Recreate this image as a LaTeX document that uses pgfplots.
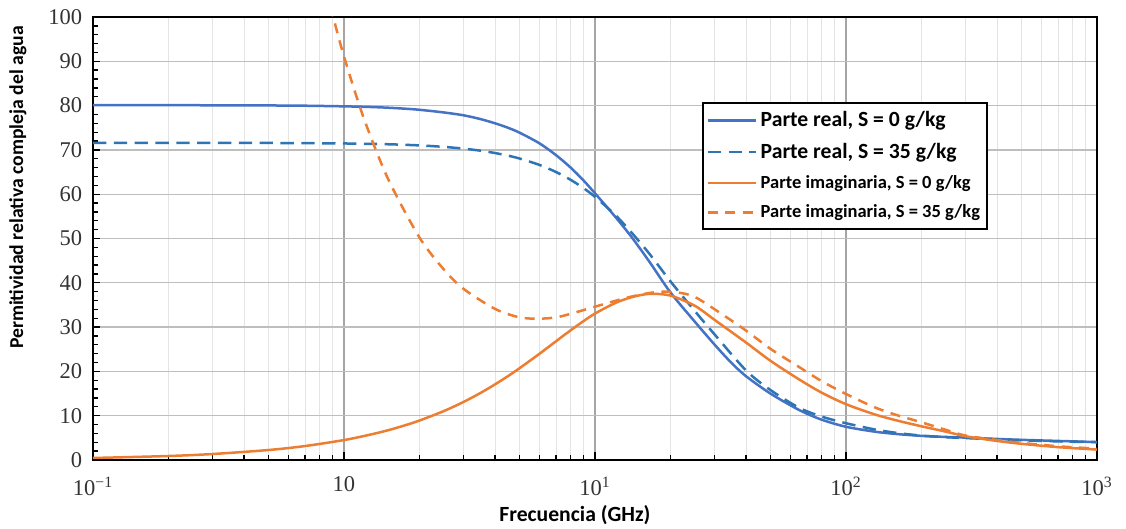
\documentclass[border=0pt]{standalone}
\usepackage{pgfplots}
\pgfplotsset{compat=1.18}
\usepackage{fontspec}
\setmainfont{Liberation Serif}
\newfontfamily\labelfont{Carlito}

\definecolor{realblue}{RGB}{68,114,196}
\definecolor{saltblue}{RGB}{46,117,182}
\definecolor{imagorange}{RGB}{237,125,49}
\definecolor{majorgrid}{RGB}{190,190,190}
\definecolor{minorgrid}{RGB}{228,228,228}
\definecolor{vgrid}{RGB}{165,165,165}

\begin{document}
\begin{tikzpicture}
\begin{axis}[
  scale only axis,
  width=602.4pt, height=265.8pt,
  xmode=log,
  xmin=0.1, xmax=1000,
  ymin=0, ymax=100,
  xtick={0.1,1,10,100,1000},
  xticklabels={10\textsuperscript{−1},10,10\textsuperscript{1},10\textsuperscript{2},10\textsuperscript{3}},
  ytick={0,10,...,100},
  minor y tick num=4,
  tick pos=left,
  tick align=inside,
  major tick length=4.5pt,
  minor tick length=3pt,
  every tick/.style={black, line width=0.8pt},
  /pgf/number format/assume math mode=true,
  ticklabel style={font=\fontsize{13.5}{15}\selectfont, text=black!80},
  yticklabel style={xshift=-3pt},
  xticklabel style={yshift=-6.5pt},
  xmajorgrids=true, xminorgrids=true, ymajorgrids=true,
  major x grid style={vgrid, line width=0.8pt},
  minor x grid style={minorgrid, line width=0.6pt},
  major y grid style={majorgrid, line width=0.8pt},
  axis line style={black, line width=1pt},
  xlabel={Frecuencia (GHz)},
  ylabel={Permitividad relativa compleja del agua},
  xlabel style={at={(axis description cs:0.48,-0.124)}, anchor=center,
    font=\labelfont\bfseries\fontsize{13}{15}\selectfont},
  ylabel style={at={(axis description cs:-0.0747,0.615)}, anchor=center,
    font=\labelfont\bfseries\fontsize{11.8}{14}\selectfont},
  legend style={at={(axis description cs:0.6066,0.808)}, anchor=north west,
    draw=black, line width=1.2pt, fill=white,
    font=\labelfont\bfseries, inner xsep=2pt, inner ysep=3pt,
    row sep=4.5pt},
  legend cell align=left,
  legend image code/.code={\draw[#1, line width=1.6pt] (0pt,0pt) -- (29pt,0pt);},
  every axis plot/.append style={line width=1.5pt, smooth},
]
% Parte real, S = 0 g/kg
\addplot[realblue] coordinates {
 (0.1,80.10) (0.2,80.09) (0.3,80.07) (0.5,80.03) (0.7,79.97) (1,79.83)
 (1.25,79.70) (1.5,79.52) (1.75,79.30) (2,79.05) (2.5,78.45) (3,77.8)
 (3.5,76.95) (4,76.0) (4.5,75.0) (5,73.9) (6,71.5) (7,68.8) (8,66.0)
 (9,63.1) (10,60.2) (12,55.0) (14,50.3) (16.5,44.7) (20,37.8) (25,31.2)
 (30,26.0) (35,21.9) (40,18.9) (50,15.0) (65,11.3) (80,9.1) (100,7.5)
 (130,6.4) (160,5.85) (200,5.45) (250,5.2) (300,5.05) (400,4.75)
 (500,4.55) (700,4.3) (1000,4.05)
};
\addlegendentry{\fontsize{13}{15}\selectfont Parte real, S = 0 g/kg}
% Parte real, S = 35 g/kg
\addplot[saltblue, dash pattern=on 8pt off 4.5pt] coordinates {
 (0.1,71.6) (0.5,71.56) (1,71.45) (1.5,71.27) (2,71.01) (2.5,70.68)
 (3,70.28) (3.5,69.82) (4,69.29) (4.5,68.70) (5,68.06) (6,66.62) (7,65.0)
 (8,63.24) (9,61.36) (10,59.4) (12,55.4) (14,51.3) (16.5,46.5) (20,40.3)
 (25,33.6) (30,28.3) (40,20.2) (50,15.8) (65,11.8) (80,9.8) (100,8.3)
 (130,6.9) (160,6.1) (200,5.5) (250,5.15) (300,4.95) (400,4.65)
 (500,4.45) (700,4.2) (1000,4.0)
};
\addlegendentry{\fontsize{13}{15}\selectfont Parte real, S = 35 g/kg}
% Parte imaginaria, S = 0 g/kg
\addplot[imagorange] coordinates {
 (0.1,0.45) (0.2,0.9) (0.3,1.35) (0.5,2.25) (0.7,3.15) (1,4.5)
 (1.25,5.63) (1.5,6.72) (1.75,7.83) (2,8.91) (2.5,11.05) (3,13.13)
 (3.5,15.14) (4,17.08) (4.5,18.93) (5,20.7) (6,23.95) (7,26.82)
 (8,29.28) (9,31.35) (10,33.05) (12,35.4) (14,36.75) (16.5,37.5)
 (20,37.1) (25,34.8) (30,31.6) (40,26.5) (50,22.4) (65,18.2) (80,15.2)
 (100,12.6) (130,10.3) (160,8.9) (200,7.6) (250,6.4) (300,5.35)
 (400,4.3) (500,3.65) (700,2.9) (1000,2.35)
};
\addlegendentry{\fontsize{11.1}{13}\selectfont Parte imaginaria, S = 0 g/kg}
% Parte imaginaria, S = 35 g/kg
\addplot[imagorange, dash pattern=on 6pt off 4.5pt] coordinates {
 (0.85,106.2) (0.9,100.6) (1,91.1) (1.2,77.1) (1.5,63.4) (2,50.2)
 (2.5,43.0) (3,38.6) (4,34.1) (5,32.2) (6,31.9) (7,32.2) (8,33.0)
 (10,34.6) (12,35.9) (14,36.9) (16.5,37.7) (19,38.0) (22,37.7) (25,36.8)
 (30,34.0) (40,29.2) (50,25.1) (65,21.0) (80,17.8) (100,14.9) (130,11.9)
 (160,10.1) (200,8.5) (250,6.8) (300,5.5) (400,4.5) (500,3.85) (700,3.1)
 (1000,2.55)
};
\addlegendentry{\fontsize{11.1}{13}\selectfont Parte imaginaria, S = 35 g/kg}
\end{axis}
\pgfresetboundingbox
\path ([shift={(-55.8pt,-41.4pt)}]current axis.south west)
  rectangle ([shift={(17.4pt,10.2pt)}]current axis.north east);
\end{tikzpicture}
\end{document}
